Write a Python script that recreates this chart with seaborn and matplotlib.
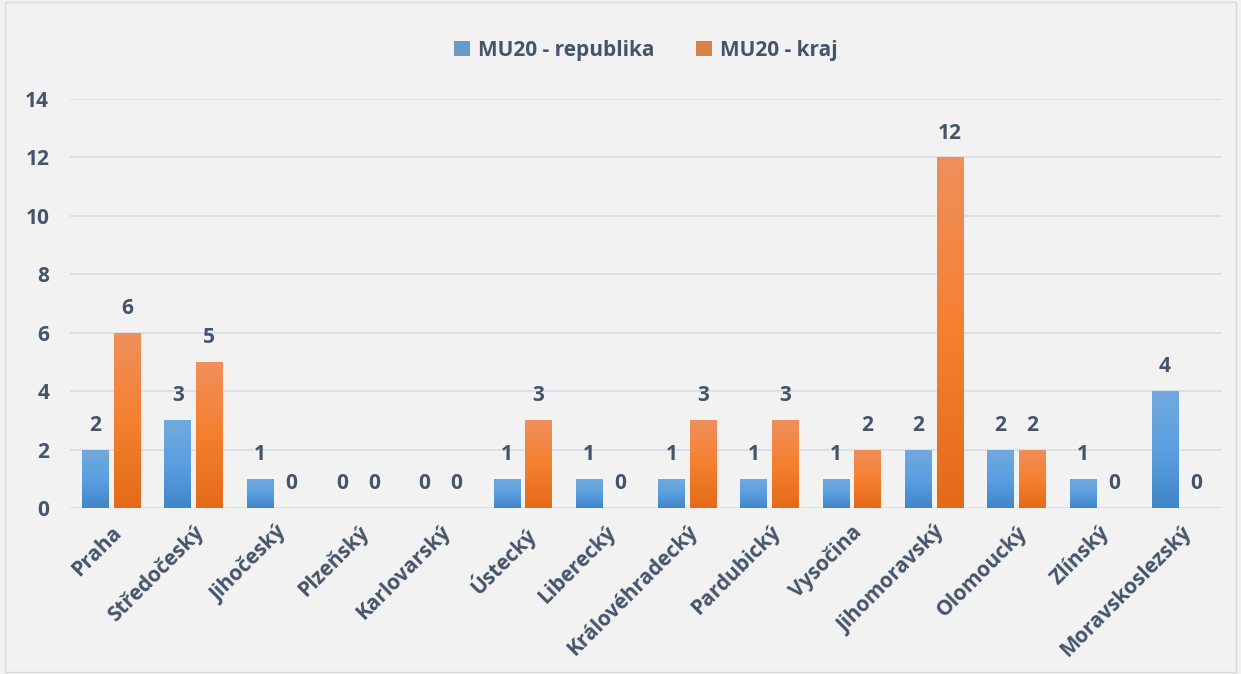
import numpy as np
import pandas as pd
import matplotlib.pyplot as plt
import seaborn as sns
from matplotlib.colors import LinearSegmentedColormap
from matplotlib.patches import Rectangle

# data
kraje = ['Praha', 'Středočeský', 'Jihočeský', 'Plzeňský', 'Karlovarský', 'Ústecký',
         'Liberecký', 'Královéhradecký', 'Pardubický', 'Vysočina', 'Jihomoravský',
         'Olomoucký', 'Zlínský', 'Moravskoslezský']
republika = [2, 3, 1, 0, 0, 1, 1, 1, 1, 1, 2, 2, 1, 4]
kraj = [6, 5, 0, 0, 0, 3, 0, 3, 3, 2, 12, 2, 0, 0]
serie = ['MU20 - republika', 'MU20 - kraj']

df = pd.DataFrame({
    'kraj': kraje * 2,
    'hodnota': republika + kraj,
    'serie': [serie[0]] * len(kraje) + [serie[1]] * len(kraje),
})

txt = '#44546a'
bg = '#f2f2f2'
fs = 15
sns.set_style('white')
plt.rcParams['font.family'] = ['Open Sans', 'DejaVu Sans']
plt.rcParams['font.weight'] = 'bold'

fig = plt.figure(figsize=(12.41, 6.74), dpi=100, facecolor=bg)
ax = fig.add_axes([0.0564, 0.2463, 0.9283, 0.6068])
ax.set_facecolor(bg)

sns.barplot(data=df, x='kraj', y='hodnota', hue='serie', hue_order=serie,
            palette=['#5b9bd5', '#ed7d31'], width=0.766, gap=0.16,
            linewidth=0, ax=ax, legend=True)

# gradient fills (top lighter, bottom darker)
grads = [LinearSegmentedColormap.from_list('b', ['#3f86c9', '#5b9fe0', '#72a9dd']),
         LinearSegmentedColormap.from_list('o', ['#e36a19', '#f5802f', '#f08f5c'])]
for cont, cmap in zip(ax.containers, grads):
    for bar in cont:
        h = bar.get_height()
        if h <= 0:
            continue
        x0 = bar.get_x()
        w = bar.get_width()
        img = ax.imshow(np.linspace(0, 1, 256).reshape(-1, 1), cmap=cmap,
                        origin='lower', aspect='auto',
                        extent=[x0, x0 + w, 0, h], zorder=bar.get_zorder() + 0.1)
        img.set_clip_path(bar)
    ax.bar_label(cont, padding=10, fontsize=fs, fontweight='bold', color=txt)

ax.set_xlim(-0.5, len(kraje) - 0.5)
ax.set_ylim(0, 14)
ax.set_yticks(range(0, 15, 2))
ax.yaxis.grid(True, color='#dde1e6', linewidth=1.5)
ax.set_axisbelow(True)
for s in ax.spines.values():
    s.set_visible(False)
ax.set_xlabel('')
ax.set_ylabel('')
ax.tick_params(axis='y', length=0, pad=15, labelsize=fs, labelcolor=txt)
ax.tick_params(axis='x', length=0, pad=10, labelsize=fs, labelcolor=txt)
plt.setp(ax.get_xticklabels(), rotation=45, ha='right', rotation_mode='anchor',
         fontweight='bold')
plt.setp(ax.get_yticklabels(), fontweight='bold')

leg = ax.legend(loc='upper center', bbox_to_anchor=(0.5, 1.19), ncol=2,
                frameon=False, fontsize=fs, handlelength=0.75, handleheight=0.75,
                columnspacing=2.0, handletextpad=0.4)
for t in leg.get_texts():
    t.set_color(txt)
    t.set_fontweight('bold')

fig.add_artist(Rectangle((0.004, 0.003), 0.992, 0.994, transform=fig.transFigure,
                         fill=False, edgecolor='#d9d9d9', linewidth=1))

fig.savefig('out.png', dpi=100, facecolor=bg)
